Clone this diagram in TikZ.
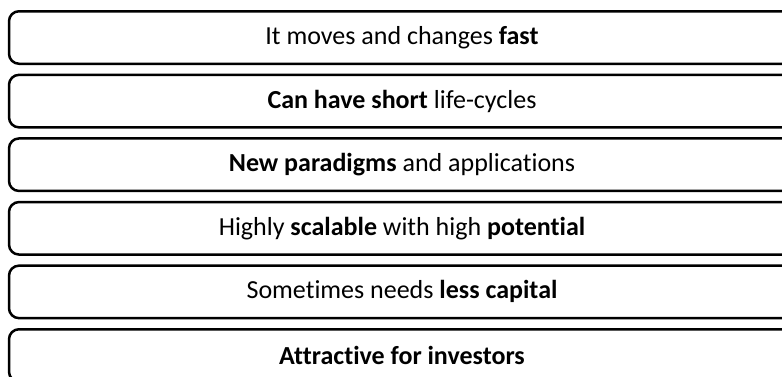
\documentclass[tikz,border=0pt]{standalone}
\usepackage{fontspec}
\setmainfont[Ligatures=NoCommon]{Carlito}
\usetikzlibrary{positioning}

\tikzset{
  bar/.style={draw, line width=2.5pt, rounded corners=10pt,
    minimum width=786pt, minimum height=52.5pt, inner sep=0pt,
    font=\fontsize{26}{30}\selectfont},
}

\begin{document}
\begin{tikzpicture}[x=1pt, y=1pt, node distance=8.6pt]
    \useasboundingbox (0,0) rectangle (782,-376);

    % Stacked feature bars
    \node[bar] (fast) at (402,-37.5) {It moves and changes \textbf{fast}};
    \node[bar, below=of fast] (cycle) {\textbf{Can have short} life-cycles};
    \node[bar, below=of cycle] (paradigm) {\textbf{New paradigms} and applications};
    \node[bar, below=of paradigm] (scale) {Highly \textbf{scalable} with high \textbf{potential}};
    \node[bar, below=of scale] (capital) {Sometimes needs \textbf{less capital}};
    \node[bar, below=of capital] (invest) {\textbf{Attractive for investors}};
\end{tikzpicture}
\end{document}
